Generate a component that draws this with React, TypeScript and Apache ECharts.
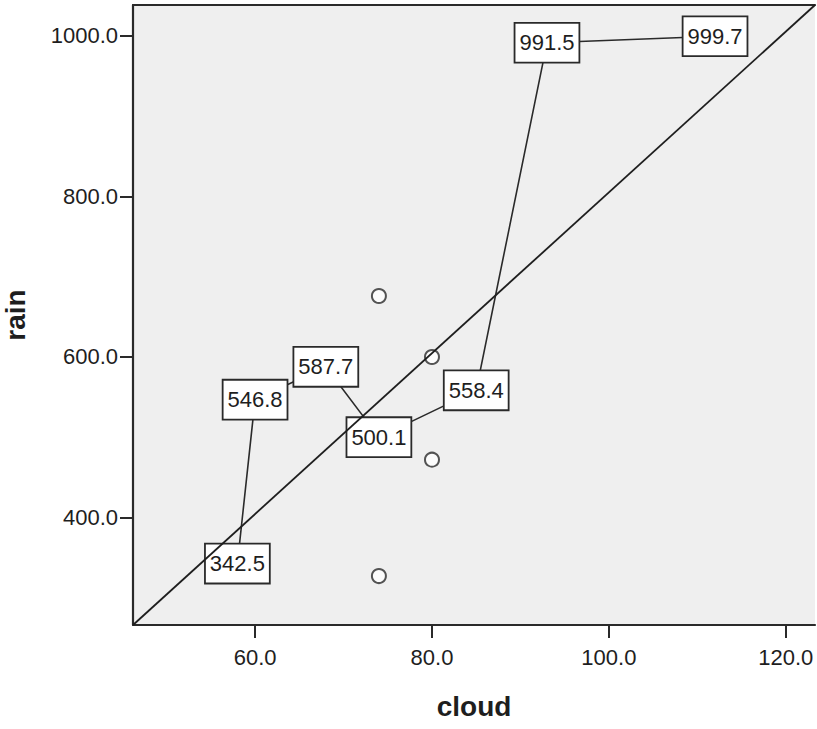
import React, { useEffect, useRef } from "react";
import * as echarts from "echarts";

// Labelled observations (cloud, rain), joined in order of cloud
const labelledCloud = [58, 60, 68, 74, 85, 93, 112];
const labelledRain = [342.5, 546.8, 587.7, 500.1, 558.4, 991.5, 999.7];

// Unlabelled observations
const plainCloud = [74, 74, 80, 80];
const plainRain = [676, 327, 600, 472];

// Axis ranges and ticks
const xRange = [46.2, 123.3];
const yRange = [266, 1038.6];
const xTicks = [60, 80, 100, 120];
const yTicks = [400, 600, 800, 1000];

const FONT = "'Liberation Sans', Arial, sans-serif";
const INK = "#1e1e1e";

export default function App() {
  const ref = useRef<HTMLDivElement>(null);

  useEffect(() => {
    document.body.style.margin = "0";
    if (!ref.current) return;
    const chart = echarts.init(ref.current, null, { renderer: "svg" });

    const labelled = labelledCloud.map((c, i) => [c, labelledRain[i]]);
    const plain = plainCloud.map((c, i) => [c, plainRain[i]]);
    const diagonal = [
      [xRange[0], yRange[0]],
      [xRange[1], yRange[1]],
    ];

    chart.setOption({
      animation: false,
      grid: {
        left: 133,
        top: 5,
        width: 682,
        height: 620,
        show: true,
        backgroundColor: "#efefef",
        borderWidth: 0,
        containLabel: false,
        outerBoundsMode: "none",
      },
      xAxis: [
        {
          type: "value",
          min: xRange[0],
          max: xRange[1],
          name: "cloud",
          nameLocation: "middle",
          nameGap: 67,
          nameTextStyle: { fontFamily: FONT, fontSize: 28, fontWeight: "bold", color: INK },
          axisLine: { show: true, onZero: false, lineStyle: { color: "#2a2a2a", width: 2.2 } },
          axisTick: { show: true, length: 13, customValues: xTicks, lineStyle: { color: "#2a2a2a", width: 2 } },
          axisLabel: {
            customValues: xTicks,
            formatter: (v: number) => v.toFixed(1),
            fontFamily: FONT,
            fontSize: 22,
            color: INK,
            margin: 21,
          },
          splitLine: { show: false },
        },
        {
          type: "value",
          position: "top",
          min: xRange[0],
          max: xRange[1],
          axisLine: { show: true, onZero: false, lineStyle: { color: "#2a2a2a", width: 2.2 } },
          axisTick: { show: false },
          axisLabel: { show: false },
          splitLine: { show: false },
        },
      ],
      yAxis: {
        type: "value",
        min: yRange[0],
        max: yRange[1],
        name: "rain",
        nameLocation: "middle",
        nameGap: 104,
        nameTextStyle: { fontFamily: FONT, fontSize: 28, fontWeight: "bold", color: INK },
        axisLine: { show: true, onZero: false, lineStyle: { color: "#2a2a2a", width: 2.2 } },
        axisTick: { show: true, length: 13, customValues: yTicks, lineStyle: { color: "#2a2a2a", width: 2 } },
        axisLabel: {
          customValues: yTicks,
          formatter: (v: number) => v.toFixed(1),
          fontFamily: FONT,
          fontSize: 22,
          color: INK,
          margin: 15,
        },
        splitLine: { show: false },
      },
      series: [
        {
          type: "scatter",
          data: plain,
          symbol: "emptyCircle",
          symbolSize: 14,
          itemStyle: { color: "#2a2a2a", borderColor: "#2a2a2a", borderWidth: 1.6 },
          z: 3,
        },
        {
          type: "line",
          data: labelled,
          symbol: "circle",
          symbolSize: 2,
          showSymbol: true,
          itemStyle: { color: "#2a2a2a" },
          lineStyle: { color: "#2a2a2a", width: 1.6 },
          label: {
            show: true,
            position: "inside",
            formatter: (p: any) => (p.value[1] as number).toFixed(1),
            fontFamily: FONT,
            fontSize: 22,
            color: INK,
            backgroundColor: "#fff",
            borderColor: "#2a2a2a",
            borderWidth: 1.8,
            padding: [9, 4, 7, 4],
          },
          z: 2,
        },
        {
          type: "line",
          data: diagonal,
          symbol: "none",
          lineStyle: { color: "#1e1e1e", width: 1.8 },
          silent: true,
          z: 10,
        },
      ],
    });

    return () => chart.dispose();
  }, []);

  return <div ref={ref} style={{ width: 817, height: 729 }} />;
}
